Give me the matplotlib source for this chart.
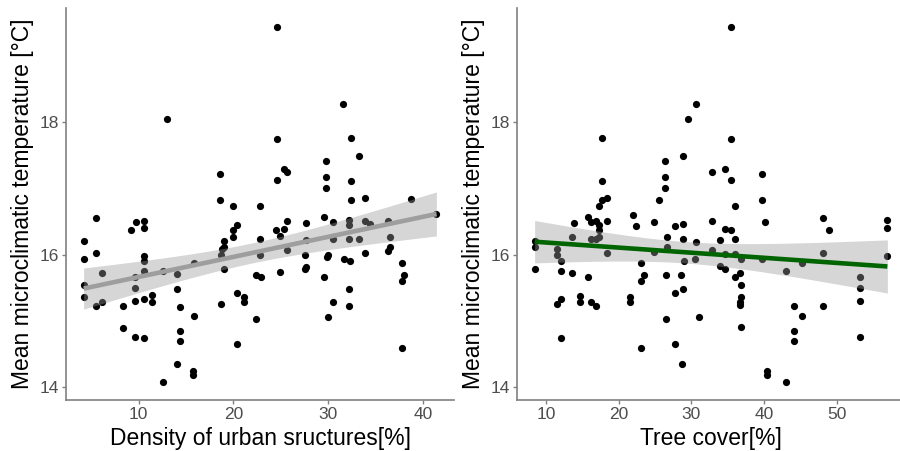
import numpy as np
import matplotlib
matplotlib.use("Agg")
import matplotlib.pyplot as plt

plt.rcParams['font.family'] = ['Liberation Sans', 'DejaVu Sans']

# left panel: density of urban structures [%] vs mean temperature [degC]
urban_density = [
    13.0, 18.6, 18.6, 19.9, 22.8, 5.5, 9.7, 10.6, 9.2, 10.6,
    20.4, 19.9, 19.9, 19.0, 22.8, 4.2, 5.5, 4.2, 10.6, 10.6,
    18.8, 19.0, 18.7, 15.8, 6.1, 10.6, 12.6, 14.0, 19.0, 22.8,
    22.4, 4.2, 9.6, 9.6, 4.2, 14.0, 20.4, 6.1, 5.5, 8.3,
    9.6, 10.6, 11.4, 11.4, 21.1, 21.1, 18.7, 14.4, 15.8, 22.4,
    8.3, 9.6, 10.6, 14.4, 14.4, 20.4, 14.0, 15.7, 15.7, 12.6,
    24.6, 31.6, 24.6, 32.4, 33.2, 29.8, 25.3, 25.6, 24.6, 29.8,
    29.8, 32.4, 32.4, 33.9, 38.7, 41.4, 25.6, 24.5, 25.3, 24.9,
    27.7, 29.6, 30.5, 32.2, 32.2, 33.9, 34.4, 36.3, 27.6, 30.5,
    32.2, 33.2, 36.5, 25.6, 27.5, 30.0, 29.9, 31.7, 32.3, 33.9,
    36.5, 36.3, 22.9, 24.9, 27.6, 27.5, 29.6, 37.8, 38.0, 37.8,
    32.2, 30.5, 32.2, 30.0, 37.8,
]
temp_urban = [
    18.04, 17.22, 16.83, 16.74, 16.74, 16.55, 16.49, 16.51, 16.37, 16.40,
    16.45, 16.38, 16.26, 16.21, 16.24, 16.20, 16.03, 15.94, 15.98, 15.91,
    16.09, 16.12, 15.99, 15.88, 15.73, 15.76, 15.75, 15.71, 15.78, 15.99,
    15.70, 15.54, 15.66, 15.50, 15.36, 15.48, 15.43, 15.28, 15.22, 15.23,
    15.30, 15.33, 15.39, 15.29, 15.37, 15.29, 15.25, 15.21, 15.08, 15.03,
    14.90, 14.76, 14.74, 14.85, 14.70, 14.65, 14.36, 14.25, 14.18, 14.08,
    19.44, 18.27, 17.75, 17.76, 17.49, 17.42, 17.30, 17.24, 17.12, 17.17,
    17.00, 17.11, 16.83, 16.86, 16.84, 16.61, 16.51, 16.38, 16.39, 16.28,
    16.48, 16.57, 16.49, 16.52, 16.45, 16.51, 16.47, 16.51, 16.22, 16.24,
    16.24, 16.23, 16.27, 16.07, 16.00, 15.99, 15.96, 15.93, 15.91, 16.03,
    16.11, 16.05, 15.66, 15.74, 15.82, 15.79, 15.66, 15.87, 15.69, 15.61,
    15.49, 15.28, 15.23, 15.06, 14.60,
]

# right panel: tree cover [%] vs mean temperature [degC]
tree_cover = [
    17.7, 30.6, 29.5, 28.8, 26.3, 17.7, 26.3, 26.3, 17.7, 18.4,
    25.5, 35.5, 35.5, 32.8, 34.6, 35.5, 39.7, 39.7, 17.2, 13.8,
    15.8, 16.2, 16.9, 17.2, 17.2, 18.4, 21.9, 22.3, 24.8, 27.7,
    28.9, 26.6, 28.8, 30.6, 8.4, 8.4, 11.5, 11.5, 12.1, 13.6,
    16.2, 16.9, 17.2, 18.4, 24.8, 26.6, 29.0, 30.5, 8.4, 12.1,
    13.6, 15.8, 23.1, 23.4, 23.1, 26.5, 28.6, 27.7, 28.8, 11.5,
    12.1, 14.6, 14.6, 16.2, 16.9, 21.5, 21.5, 26.5, 31.1, 12.1,
    23.1, 27.7, 28.7, 36.0, 32.8, 34.6, 35.5, 33.9, 36.0, 40.1,
    48.1, 48.9, 57.0, 57.0, 32.8, 34.6, 36.0, 36.8, 39.7, 48.1,
    57.0, 45.2, 43.0, 33.9, 34.6, 36.0, 36.7, 36.8, 53.2, 53.2,
    53.2, 36.8, 36.7, 36.7, 44.1, 48.1, 45.2, 36.8, 44.1, 44.1,
    53.2, 40.4, 40.4, 43.0,
]
temp_tree = [
    17.76, 18.27, 18.04, 17.49, 17.42, 17.11, 17.17, 17.00, 16.83, 16.86,
    16.83, 19.44, 17.75, 17.24, 17.30, 17.12, 17.22, 16.83, 16.74, 16.48,
    16.57, 16.49, 16.51, 16.45, 16.38, 16.51, 16.60, 16.44, 16.50, 16.44,
    16.46, 16.27, 16.23, 16.19, 16.21, 16.12, 16.08, 15.99, 15.91, 16.27,
    16.24, 16.24, 16.27, 16.03, 16.04, 16.11, 15.91, 15.94, 15.78, 15.76,
    15.73, 15.66, 15.87, 15.69, 15.61, 15.70, 15.70, 15.43, 15.48, 15.25,
    15.33, 15.38, 15.29, 15.28, 15.23, 15.37, 15.29, 15.03, 15.06, 14.75,
    14.60, 14.65, 14.36, 16.74, 16.51, 16.39, 16.38, 16.22, 16.23, 16.49,
    16.55, 16.37, 16.52, 16.40, 16.07, 16.01, 16.01, 15.93, 15.93, 16.03,
    15.98, 15.87, 15.75, 15.83, 15.79, 15.66, 15.73, 15.54, 15.67, 15.50,
    15.30, 15.37, 15.28, 15.24, 15.22, 15.23, 15.08, 14.91, 14.85, 14.70,
    14.76, 14.25, 14.18, 14.08,
]

x_labels = ['Density of urban sructures[%]', 'Tree cover[%]']
y_label = 'Mean microclimatic temperature [°C]'
line_colors = ['#9e9e9e', '#006400']


def lm_band(x, y, t_crit=1.98):
    # straight-line fit with a 95% confidence band, like geom_smooth(method='lm')
    x = np.asarray(x, dtype=float)
    y = np.asarray(y, dtype=float)
    n = len(x)
    b, a = np.polyfit(x, y, 1)
    resid = y - (a + b * x)
    s = np.sqrt(np.sum(resid ** 2) / (n - 2))
    xs = np.linspace(x.min(), x.max(), 80)
    se = s * np.sqrt(1.0 / n + (xs - x.mean()) ** 2 / np.sum((x - x.mean()) ** 2))
    fit = a + b * xs
    return xs, fit, fit - t_crit * se, fit + t_crit * se


fig = plt.figure(figsize=(9, 4.51), dpi=100)
ax1 = fig.add_axes([66 / 900, 1 - 400 / 451, 388 / 900, 392 / 451])
ax2 = fig.add_axes([517 / 900, 1 - 400 / 451, 388 / 900, 392 / 451])

panels = [(ax1, urban_density, temp_urban), (ax2, tree_cover, temp_tree)]
for i, (ax, xv, yv) in enumerate(panels):
    ax.scatter(xv, yv, s=27, color='black', linewidths=0, zorder=2)
    xs, fit, lo, hi = lm_band(xv, yv)
    ax.fill_between(xs, lo, hi, color='#999999', alpha=0.4, linewidth=0, zorder=3)
    ax.plot(xs, fit, color=line_colors[i], linewidth=3.3, zorder=4,
            solid_capstyle='butt')

    ax.margins(x=0.05, y=0.05)
    ax.set_yticks([14, 16, 18])
    ax.set_ylim(13.81, 19.72)
    for side in ['top', 'right']:
        ax.spines[side].set_visible(False)
    for side in ['left', 'bottom']:
        ax.spines[side].set_color('#808080')
        ax.spines[side].set_linewidth(1.2)
    ax.tick_params(axis='both', colors='#808080', labelcolor='#4d4d4d',
                   labelsize=12.5, length=3, width=1, pad=2)
    ax.set_xlabel(x_labels[i], fontsize=16.5, color='black', labelpad=4)
    ax.set_ylabel(y_label, fontsize=16.5, color='black', labelpad=4)

ax1.set_xticks([10, 20, 30, 40])
ax2.set_xticks([10, 20, 30, 40, 50])

fig.savefig('out.png', dpi=100)
